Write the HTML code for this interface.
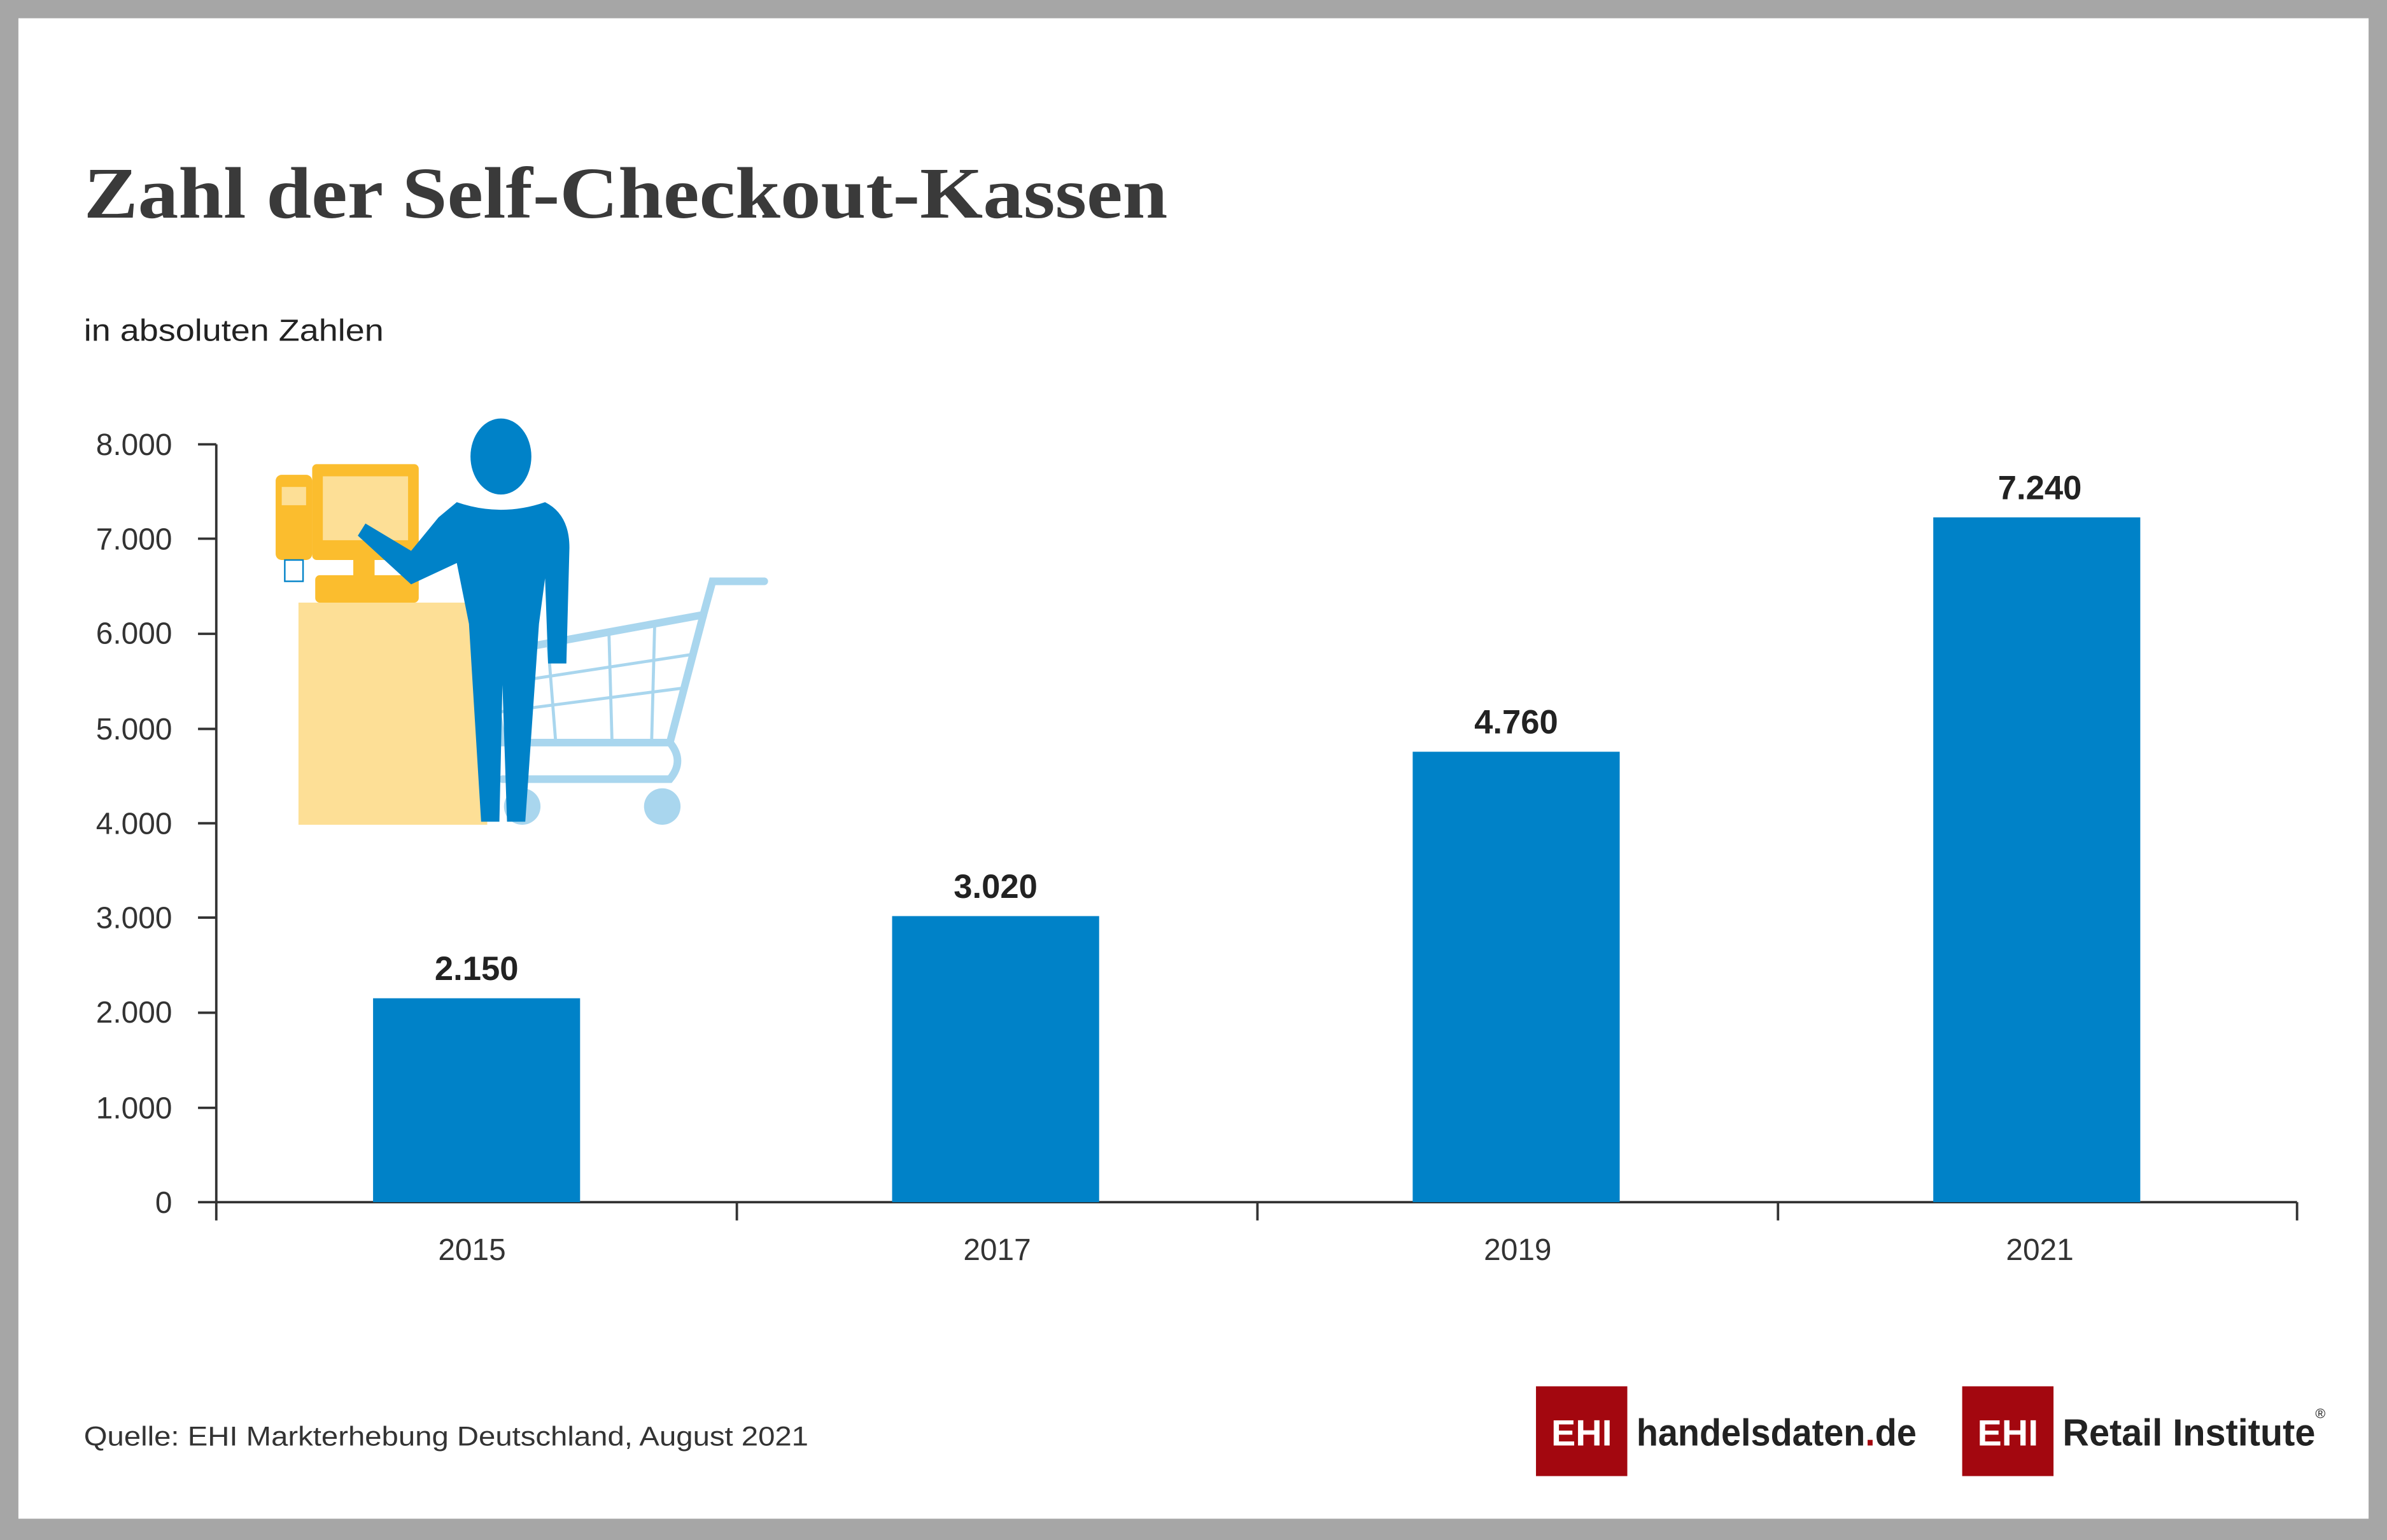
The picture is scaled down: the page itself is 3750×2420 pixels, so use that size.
<!DOCTYPE html>
<html><head><meta charset="utf-8"><style>
html,body{margin:0;padding:0;background:#a6a6a6;}
svg{display:block}
</style></head><body>
<svg width="3750" height="2420" viewBox="0 0 1568 1012" xmlns="http://www.w3.org/2000/svg" font-family="Liberation Sans, sans-serif">
<rect x="0" y="0" width="1568" height="1012" fill="#a6a6a6"/>
<rect x="12" y="12" width="1544" height="986" fill="#fff"/>
<text x="55" y="143" font-family="Liberation Serif, serif" font-weight="bold" font-size="48" fill="#3a3a3a" textLength="712" lengthAdjust="spacingAndGlyphs">Zahl der Self-Checkout-Kassen</text>
<text x="55" y="224" font-size="20" fill="#222" textLength="197" lengthAdjust="spacingAndGlyphs">in absoluten Zahlen</text>

<!-- illustration -->
<g>
<rect x="196" y="396" width="124" height="146" fill="#fddf96"/>
<g stroke="#a9d6ee" fill="none" stroke-width="5" stroke-linecap="round">
<path d="M320 430 L462 404 L468 382 L502 382"/>
<path d="M320 430 L330 488 L440 488 Q450 500 440 512 L330 512"/>
<path d="M462 404 L440 488"/>
</g>
<g stroke="#a9d6ee" stroke-width="2">
<line x1="324" y1="450" x2="455" y2="430"/><line x1="327" y1="468" x2="450" y2="452"/>
<line x1="360" y1="424" x2="365" y2="488"/><line x1="400" y1="417" x2="402" y2="488"/><line x1="430" y1="411" x2="428" y2="488"/>
</g>
<circle cx="343" cy="530" r="12" fill="#a9d6ee"/><circle cx="435" cy="530" r="12" fill="#a9d6ee"/>
<rect x="205" y="305" width="70" height="63" rx="3" fill="#fbbd2e"/>
<rect x="212" y="313" width="56" height="42" fill="#fddf96"/>
<rect x="232" y="366" width="14" height="14" fill="#fbbd2e"/>
<rect x="207" y="378" width="68" height="18" rx="3" fill="#fbbd2e"/>
<rect x="181" y="312" width="24" height="56" rx="4" fill="#fbbd2e"/>
<rect x="185" y="320" width="16" height="12" fill="#fddf96"/>
<rect x="187" y="368" width="12" height="14" fill="#fff" stroke="#0082c8" stroke-width="1"/>
<g fill="#0082c8">
<ellipse cx="329" cy="300" rx="20" ry="25"/>
<path d="M300 330 Q329 340 358 330 Q374 338 374 360 L372 436 L360 436 L358 380 L354 410 L345 540 L333 540 L330 450 L328 540 L316 540 L308 410 L300 370 L270 384 L235 352 L240 344 L270 362 L288 340 Z"/>
</g>
</g>

<g stroke="#333" stroke-width="1.6">
<line x1="142" y1="292" x2="142" y2="790"/>
<line x1="142" y1="790" x2="1509" y2="790"/>
<line x1="130" y1="292" x2="142" y2="292"/><line x1="130" y1="354" x2="142" y2="354"/>
<line x1="130" y1="416.5" x2="142" y2="416.5"/><line x1="130" y1="479" x2="142" y2="479"/>
<line x1="130" y1="541" x2="142" y2="541"/><line x1="130" y1="603" x2="142" y2="603"/>
<line x1="130" y1="665.5" x2="142" y2="665.5"/><line x1="130" y1="728" x2="142" y2="728"/>
<line x1="130" y1="790" x2="142" y2="790"/>
<line x1="142" y1="790" x2="142" y2="802"/><line x1="484" y1="790" x2="484" y2="802"/>
<line x1="826" y1="790" x2="826" y2="802"/><line x1="1168" y1="790" x2="1168" y2="802"/>
<line x1="1509" y1="790" x2="1509" y2="802"/>
</g>
<g font-size="20" fill="#333" text-anchor="end">
<text x="113" y="299">8.000</text><text x="113" y="361">7.000</text><text x="113" y="423">6.000</text>
<text x="113" y="486">5.000</text><text x="113" y="548">4.000</text><text x="113" y="610">3.000</text>
<text x="113" y="672">2.000</text><text x="113" y="735">1.000</text><text x="113" y="797">0</text>
</g>
<g fill="#0082c8">
<rect x="245" y="656" width="136" height="134"/>
<rect x="586" y="602" width="136" height="188"/>
<rect x="928" y="494" width="136" height="296"/>
<rect x="1270" y="340" width="136" height="450"/>
</g>
<g font-size="22" font-weight="bold" fill="#222" text-anchor="middle">
<text x="313" y="644">2.150</text><text x="654" y="590">3.020</text>
<text x="996" y="482">4.760</text><text x="1340" y="328">7.240</text>
</g>
<g font-size="20" fill="#333" text-anchor="middle">
<text x="310" y="828">2015</text><text x="655" y="828">2017</text>
<text x="997" y="828">2019</text><text x="1340" y="828">2021</text>
</g>
<text x="55" y="950" font-size="18" fill="#333" textLength="476" lengthAdjust="spacingAndGlyphs">Quelle: EHI Markterhebung Deutschland, August 2021</text>

<rect x="1009" y="911" width="60" height="59" fill="#a3070f"/>
<text x="1039" y="950" font-size="24" font-weight="bold" fill="#fff" text-anchor="middle">EHI</text>
<text x="1075" y="950" font-size="25" font-weight="bold" fill="#222" textLength="184" lengthAdjust="spacingAndGlyphs">handelsdaten<tspan fill="#a3070f">.</tspan>de</text>
<rect x="1289" y="911" width="60" height="59" fill="#a3070f"/>
<text x="1319" y="950" font-size="24" font-weight="bold" fill="#fff" text-anchor="middle">EHI</text>
<text x="1355" y="950" font-size="25" font-weight="bold" fill="#222" textLength="166" lengthAdjust="spacingAndGlyphs">Retail Institute</text>
<text x="1521" y="932" font-size="9" fill="#222">®</text>
</svg>
</body></html>
